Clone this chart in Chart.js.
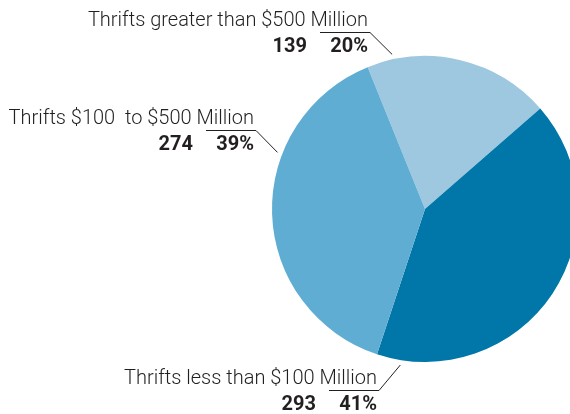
<!DOCTYPE html>
<html>
<head>
<meta charset="utf-8">
<script src="https://cdn.jsdelivr.net/npm/chart.js@4"></script>
<style>
    body { margin: 0; background: #fff; }
    #wrap { width: 570px; height: 414px; overflow: hidden; position: relative; }
    canvas { display: block; }
</style>
</head>
<body>
<div id="wrap"><canvas id="thriftChart" width="600" height="414"></canvas></div>
<script>
const categories = ['Thrifts greater than $500 Million', 'Thrifts less than $100 Million', 'Thrifts $100  to $500 Million'];
const counts = [139, 293, 274];
const shares = ['20%', '41%', '39%'];
const sliceColors = ['#9dc8e0', '#0077a8', '#60add3'];

// where each callout sits: right edge and baseline of the name, and the angle it points at
const callouts = [
    { right: 368, base: 26, angle: -12 },
    { right: 377, base: 384, angle: 189 },
    { right: 254, base: 124, angle: -69 }
];

const calloutPlugin = {
    id: 'callouts',
    afterDraw(chart) {
        const ctx = chart.ctx;
        const arc = chart.getDatasetMeta(0).data[0];
        const cx = arc.x, cy = arc.y, r = arc.outerRadius;
        ctx.save();
        ctx.fillStyle = '#231f20';
        ctx.strokeStyle = '#231f20';
        ctx.lineWidth = 1;
        ctx.textAlign = 'right';
        ctx.textBaseline = 'alphabetic';
        callouts.forEach((c, i) => {
            ctx.font = '300 20px Roboto, "Liberation Sans", sans-serif';
            ctx.fillText(categories[i], c.right, c.base);
            ctx.font = 'bold 20px Roboto, "Liberation Sans", sans-serif';
            ctx.fillText(shares[i], c.right, c.base + 26);
            ctx.fillText(String(counts[i]), c.right - 61, c.base + 26);

            const a = c.angle * Math.PI / 180;
            const ex = cx + (r + 5) * Math.sin(a);
            const ey = cy - (r + 5) * Math.cos(a);
            const ly = c.base + 6.5;
            ctx.beginPath();
            ctx.moveTo(c.right - 48, ly);
            ctx.lineTo(c.right + 2, ly);
            ctx.lineTo(ex, ey);
            ctx.stroke();
        });
        ctx.restore();
    }
};

new Chart(document.getElementById('thriftChart'), {
    type: 'pie',
    data: {
        labels: categories,
        datasets: [{
            data: counts,
            backgroundColor: sliceColors,
            borderWidth: 0
        }]
    },
    options: {
        responsive: false,
        animation: false,
        rotation: -22,
        layout: { padding: { left: 272, right: 22, top: 56, bottom: 52 } },
        plugins: {
            legend: { display: false },
            tooltip: { enabled: false }
        }
    },
    plugins: [calloutPlugin]
});
</script>
</body>
</html>
